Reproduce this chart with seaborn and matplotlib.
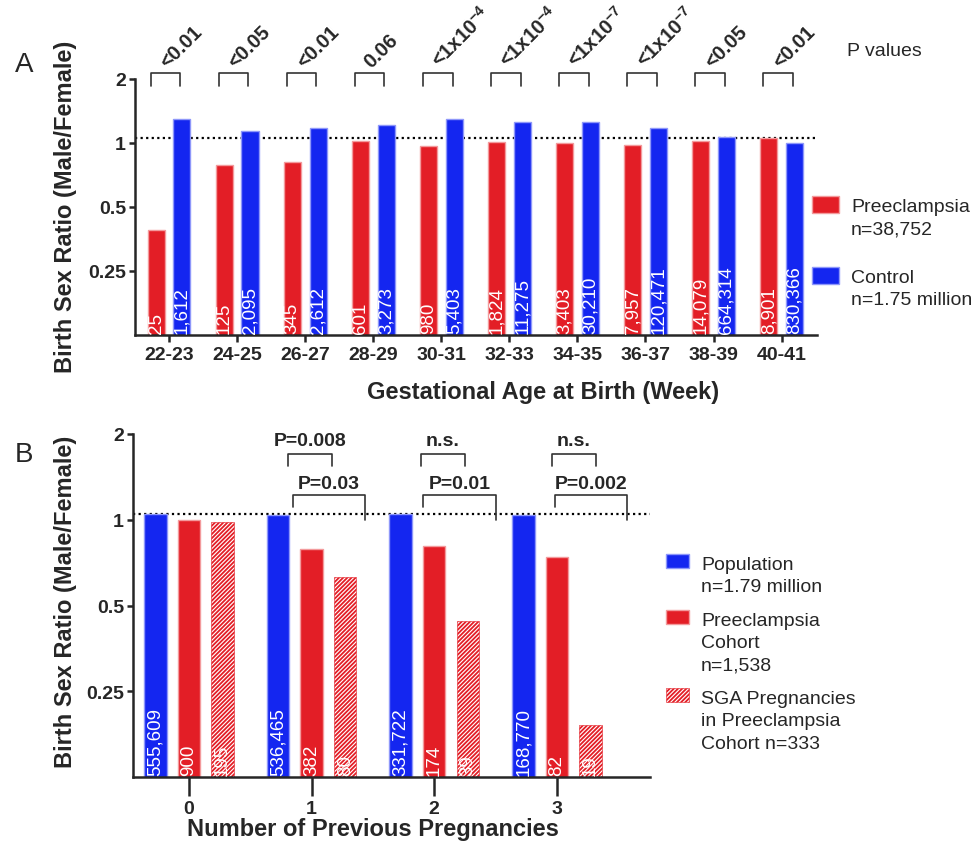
import numpy as np
import pandas as pd
import matplotlib
matplotlib.use("Agg")
import matplotlib.pyplot as plt
from matplotlib.patches import Rectangle
from matplotlib.ticker import NullLocator
import seaborn as sns

# ── data ─────────────────────────────────────────────────────────
AGE_GROUPS = ["22-23", "24-25", "26-27", "28-29", "30-31",
              "32-33", "34-35", "36-37", "38-39", "40-41"]
PE_RATIO   = [0.39, 0.79, 0.81, 1.025, 0.97, 1.015, 1.0, 0.98, 1.025, 1.055]
CTRL_RATIO = [1.30, 1.14, 1.18, 1.22, 1.29, 1.26, 1.25, 1.18, 1.067, 0.997]
PE_N   = ["25", "125", "345", "601", "980", "1,824", "3,403", "7,957",
          "14,079", "8,901"]
CTRL_N = ["1,612", "2,095", "2,612", "3,273", "5,403", "11,275", "30,210",
          "120,471", "664,314", "830,366"]
P_VALUES_A = ["<0.01", "<0.05", "<0.01", "0.06",
              r"<1x10$^{\mathbf{-4}}$", r"<1x10$^{\mathbf{-4}}$",
              r"<1x10$^{\mathbf{-7}}$", r"<1x10$^{\mathbf{-7}}$",
              "<0.05", "<0.01"]

PREG_GROUPS = ["0", "1", "2", "3"]
POP_RATIO = [1.05, 1.04, 1.05, 1.04]
PEC_RATIO = [1.0, 0.79, 0.81, 0.74]
SGA_RATIO = [0.985, 0.628, 0.44, 0.19]
POP_N = ["555,609", "536,465", "331,722", "168,770"]
PEC_N = ["900", "382", "174", "82"]
SGA_N = ["195", "80", "39", "19"]
P_TOP_B = [None, "P=0.008", "n.s.", "n.s."]
P_LOW_B = [None, "P=0.03", "P=0.01", "P=0.002"]
# bracket spans (offset from group centre), drawn by hand in the original
SPAN_TOP_B = [None, (-0.19, 0.17), (-0.11, 0.25), (-0.04, 0.32)]
SPAN_LOW_B = [None, (-0.155, 0.435), (-0.09, 0.50), (-0.015, 0.57)]

REF_RATIO = 1.05

RED, RED_EDGE = "#E31E26", "#F39A9C"
BLUE, BLUE_EDGE = "#1426F0", "#8E97FA"

# ── style ────────────────────────────────────────────────────────
sns.set_style("ticks")
plt.rcParams["font.family"] = ["Liberation Sans", "DejaVu Sans"]
plt.rcParams["mathtext.fontset"] = "custom"
plt.rcParams["mathtext.rm"] = "Liberation Sans"
plt.rcParams["mathtext.bf"] = "Liberation Sans:bold"
plt.rcParams["hatch.linewidth"] = 1.3

W, H = 974, 845
fig = plt.figure(figsize=(W / 100, H / 100), dpi=100)


def fx(x):
    return x / W


def fy(y):
    return 1 - y / H


axA = fig.add_axes([fx(135), fy(336), (817 - 135) / W, (336 - 80) / H])
axB = fig.add_axes([fx(133), fy(778), (650 - 133) / W, (778 - 435) / H])


def style_axis(ax, xtick_len):
    ax.set_yscale("log", base=2)
    ax.set_ylim(0.125, 2)
    ax.set_yticks([0.25, 0.5, 1, 2])
    ax.set_yticklabels(["0.25", "0.5", "1", "2"])
    ax.yaxis.set_minor_locator(NullLocator())
    ax.set_xlabel("")
    ax.set_ylabel("")
    sns.despine(ax=ax)
    for s in ["left", "bottom"]:
        ax.spines[s].set_linewidth(1.8)
    ax.tick_params(axis="y", width=1.8, length=4.5, pad=2, labelsize=14)
    ax.tick_params(axis="x", width=1.8, length=xtick_len, pad=3, labelsize=14)
    for lbl in ax.get_xticklabels() + ax.get_yticklabels():
        lbl.set_fontweight("bold")
    ax.axhline(REF_RATIO, color="black", ls=(0, (1, 1.5)), lw=1.6, zorder=0.5)


def count_labels(ax, groups):
    for cont, labels in zip(ax.containers, groups):
        for bar, lab in zip(cont, labels):
            ax.text(bar.get_x() + bar.get_width() / 2, 0.006, lab,
                    transform=ax.get_xaxis_transform(), rotation=90,
                    ha="center", va="bottom", color="white", fontsize=13.5)


# ── panel A ──────────────────────────────────────────────────────
dfA = pd.DataFrame({
    "age": AGE_GROUPS * 2,
    "ratio": PE_RATIO + CTRL_RATIO,
    "group": ["Preeclampsia"] * len(AGE_GROUPS) + ["Control"] * len(AGE_GROUPS),
})
sns.barplot(data=dfA, x="age", y="ratio", hue="group", palette=[RED, BLUE],
            width=0.76, gap=0.34, saturation=1, errorbar=None, legend=False,
            ax=axA)
for cont, ec in zip(axA.containers, [RED_EDGE, BLUE_EDGE]):
    for bar in cont:
        bar.set_edgecolor(ec)
        bar.set_linewidth(1)
style_axis(axA, 5)
axA.set_xlim(-0.5, len(AGE_GROUPS) - 0.48)
count_labels(axA, [PE_N, CTRL_N])

for i, p in enumerate(P_VALUES_A):
    x0, x1 = i - 0.27, i + 0.165
    axA.plot([x0, x0, x1, x1], [1.86, 2.13, 2.13, 1.86], color="#333333",
             lw=1.2, clip_on=False)
    axA.text((x0 + x1) / 2 + 0.03, 2.26, p, rotation=45, rotation_mode="anchor",
             ha="left", va="baseline", fontsize=14.5, fontweight="bold",
             clip_on=False)

# ── panel B ──────────────────────────────────────────────────────
n = len(PREG_GROUPS)
dfB = pd.DataFrame({
    "preg": PREG_GROUPS * 3,
    "ratio": POP_RATIO + PEC_RATIO + SGA_RATIO,
    "group": ["Population"] * n + ["Preeclampsia"] * n + ["SGA"] * n,
})
sns.barplot(data=dfB, x="preg", y="ratio", hue="group",
            palette=[BLUE, RED, RED], width=0.82, gap=0.33, saturation=1,
            errorbar=None, legend=False, ax=axB)
for cont, ec in zip(axB.containers, [BLUE_EDGE, RED_EDGE, RED_EDGE]):
    for bar in cont:
        bar.set_edgecolor(ec)
        bar.set_linewidth(1)
for bar in axB.containers[2]:
    bar.set_facecolor("white")
    bar.set_edgecolor(RED)
    bar.set_linewidth(0.4)
    bar.set_hatch("////////")
style_axis(axB, 13.5)
axB.set_xlim(-0.457, n - 1 + 0.76)
count_labels(axB, [POP_N, PEC_N, SGA_N])

for i in range(n):
    if P_TOP_B[i] is None:
        continue
    a, b = SPAN_TOP_B[i]
    axB.plot([i + a, i + a, i + b, i + b], [1.54, 1.70, 1.70, 1.54],
             color="#333333", lw=1.2, clip_on=False)
    axB.text(i + (a + b) / 2, 1.905, P_TOP_B[i], ha="center", va="center",
             fontsize=14, fontweight="bold", clip_on=False)
    a, b = SPAN_LOW_B[i]
    axB.plot([i + a, i + a, i + b, i + b], [1.108, 1.22, 1.22, 1.0],
             color="#333333", lw=1.2, clip_on=False)
    axB.text(i + (a + b) / 2, 1.344, P_LOW_B[i], ha="center", va="center",
             fontsize=14, fontweight="bold", clip_on=False)

# ── labels ───────────────────────────────────────────────────────
fig.text(fx(24), fy(65), "A", fontsize=20, ha="center", va="center")
fig.text(fx(24), fy(455), "B", fontsize=20, ha="center", va="center")
fig.text(fx(847), fy(52), "P values", fontsize=14, ha="left", va="center")

ylab = "Birth Sex Ratio (Male/Female)"
fig.text(fx(66), fy(207), ylab, rotation=90, fontsize=17, fontweight="bold",
         ha="center", va="center")
fig.text(fx(66), fy(602), ylab, rotation=90, fontsize=17, fontweight="bold",
         ha="center", va="center")
fig.text(fx(543), fy(392), "Gestational Age at Birth (Week)", fontsize=17,
         fontweight="bold", ha="center", va="center")
fig.text(fx(373), fy(830), "Number of Previous Pregnancies", fontsize=17,
         fontweight="bold", ha="center", va="center")


# ── legends (drawn by hand: patch beside the first text line) ────
def legend_entry(x, y, label, face, edge, hatch=None, lw=1, w=27, h=17):
    rect = Rectangle((fx(x), fy(y + h)), w / W, h / H, transform=fig.transFigure,
                     facecolor=face, edgecolor=edge, lw=lw, hatch=hatch)
    fig.add_artist(rect)
    fig.text(fx(x + w + 12), fy(y + 2), label, fontsize=14, ha="left",
             va="top", linespacing=1.42)


legend_entry(812, 197, "Preeclampsia\nn=38,752", RED, RED_EDGE)
legend_entry(812, 268, "Control\nn=1.75 million", BLUE, BLUE_EDGE)
legend_entry(666, 555, "Population\nn=1.79 million", BLUE, BLUE_EDGE, w=23, h=14)
legend_entry(666, 611, "Preeclampsia\nCohort\nn=1,538", RED, RED_EDGE, w=23, h=14)
legend_entry(666, 689, "SGA Pregnancies\nin Preeclampsia\nCohort n=333",
             "white", RED, hatch="////////", lw=0.4, w=23, h=14)

fig.savefig("out.png", dpi=100)
